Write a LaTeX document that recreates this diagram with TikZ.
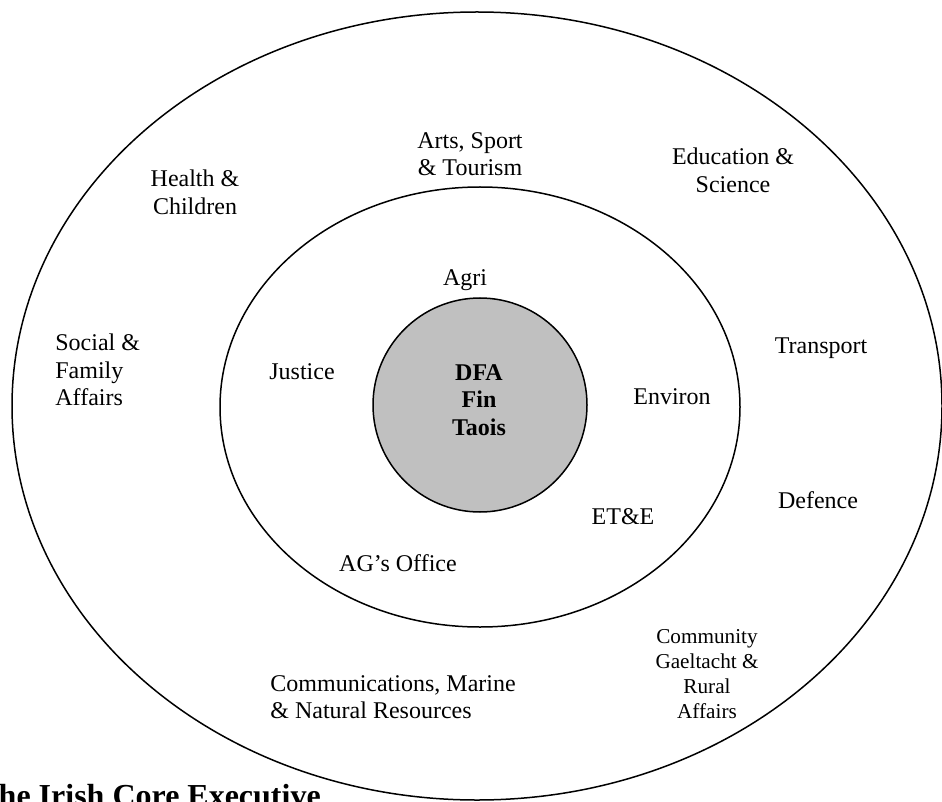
\documentclass[tikz,border=0pt]{standalone}
\usepackage{fontspec}
\setmainfont{Liberation Serif}
\definecolor{coregray}{HTML}{C0C0C0}
\begin{document}
\begin{tikzpicture}[
    x=0.5pt, y=-0.5pt,
    mylabel/.style={align=center, inner sep=0pt, font=\fontsize{12}{13.8}\selectfont},
    mysmall/.style={align=center, inner sep=0pt, font=\fontsize{10.6}{12.4}\selectfont},
    myring/.style={draw=black, line width=0.75pt},
]
\path[use as bounding box, clip] (0,0) rectangle (942,802);

% rings
\draw[myring] (477,406) ellipse [x radius=465, y radius=394];
\draw[myring] (480,407) ellipse [x radius=260, y radius=220];
\draw[myring, fill=coregray] (480,405) circle [radius=107];

% core
\node[mylabel, font=\fontsize{12}{13.8}\selectfont\bfseries] (core) at (479,400) {DFA\\Fin\\Taois};

% inner ring
\node[mylabel] (agri) at (465,280) {Agri};
\node[mylabel] (justice) at (302,372) {Justice};
\node[mylabel] (environ) at (672,397) {Environ};
\node[mylabel] (ete) at (623,517) {ET\&E};
\node[mylabel] (ag) at (398,563) {AG’s Office};

% outer ring
\node[mylabel] (arts) at (470,154) {Arts, Sport\\\& Tourism};
\node[mylabel] (edu) at (733,170) {Education \&\\Science};
\node[mylabel] (health) at (195,192) {Health \&\\Children};
\node[mylabel, align=left, anchor=west] (social) at (55,370) {Social \&\\Family\\Affairs};
\node[mylabel] (transport) at (821,348) {Transport};
\node[mylabel] (defence) at (818,500) {Defence};
\node[mysmall] (community) at (707,674) {Community\\Gaeltacht \&\\Rural\\Affairs};
\node[mylabel, align=left, anchor=west] (comms) at (270,697) {Communications, Marine\\\& Natural Resources};

% caption (cut by the page edge)
\node[inner sep=0pt, anchor=base west, font=\fontsize{16}{18}\selectfont\bfseries] (caption) at (-23,806) {The Irish Core Executive};
\end{tikzpicture}
\end{document}
